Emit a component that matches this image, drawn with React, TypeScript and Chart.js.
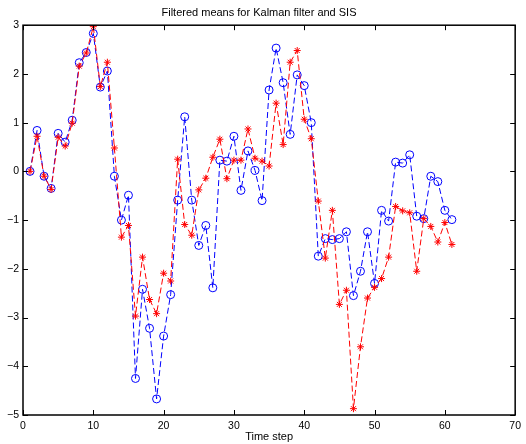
import React, { useEffect, useRef } from "react";
import { Chart, registerables } from "chart.js";

Chart.register(...registerables);

const steps: number[] = [
  1, 2, 3, 4, 5, 6, 7, 8, 9, 10, 11, 12, 13, 14, 15, 16, 17, 18, 19, 20,
  21, 22, 23, 24, 25, 26, 27, 28, 29, 30, 31, 32, 33, 34, 35, 36, 37, 38, 39, 40,
  41, 42, 43, 44, 45, 46, 47, 48, 49, 50, 51, 52, 53, 54, 55, 56, 57, 58, 59, 60, 61,
];

const kalman: number[] = [
  0.0, 0.84, -0.1, -0.35, 0.78, 0.6, 1.05, 2.23, 2.44, 2.83,
  1.73, 2.06, -0.1, -1.0, -0.49, -4.25, -2.42, -3.22, -4.67, -3.38,
  -2.53, -0.59, 1.12, -0.59, -1.52, -1.11, -2.39, 0.23, 0.21, 0.72,
  -0.39, 0.42, 0.02, -0.6, 1.67, 2.53, 1.82, 0.76, 1.98, 1.76,
  1.0, -1.74, -1.38, -1.4, -1.38, -1.24, -2.55, -2.05, -1.24, -2.3,
  -0.8, -1.02, 0.19, 0.17, 0.34, -0.92, -0.97, -0.1, -0.21, -0.8, -0.99,
];

const sis: number[] = [
  0.0, 0.72, -0.1, -0.37, 0.7, 0.52, 0.99, 2.16, 2.43, 2.97,
  1.74, 2.24, 0.48, -1.35, -1.11, -2.97, -1.76, -2.63, -2.92, -2.09,
  -2.25, 0.25, -1.09, -1.31, -0.38, -0.14, 0.29, 0.66, -0.15, 0.23,
  0.23, 0.87, 0.27, 0.21, 0.11, 1.4, 0.55, 2.24, 2.48, 1.07,
  0.67, -0.61, -1.78, -0.8, -2.73, -2.44, -4.87, -3.6, -2.6, -2.38,
  -2.2, -1.76, -0.72, -0.81, -0.85, -2.05, -0.97, -1.13, -1.45, -1.05, -1.5,
];

const titleText = "Filtered means for Kalman filter and SIS";
const xLabel = "Time step";
const FONT = "'Liberation Sans', Arial, Helvetica, sans-serif";

const boxTicks = {
  id: "boxTicks",
  afterDatasetsDraw(chart: any) {
    const { ctx, chartArea } = chart;
    const { left, right, top, bottom } = chartArea;
    const xs = chart.scales.x;
    const ys = chart.scales.y;
    const len = 5;
    ctx.save();
    ctx.strokeStyle = "#000";
    ctx.lineWidth = 1;
    ctx.beginPath();
    xs.ticks.forEach((t: any) => {
      const px = Math.round(xs.getPixelForValue(t.value)) + 0.5;
      ctx.moveTo(px, bottom);
      ctx.lineTo(px, bottom - len);
      ctx.moveTo(px, top);
      ctx.lineTo(px, top + len);
    });
    ys.ticks.forEach((t: any) => {
      const py = Math.round(ys.getPixelForValue(t.value)) + 0.5;
      ctx.moveTo(left, py);
      ctx.lineTo(left + len, py);
      ctx.moveTo(right, py);
      ctx.lineTo(right - len, py);
    });
    ctx.stroke();
    ctx.lineWidth = 1.5;
    ctx.strokeRect(left, top, right - left, bottom - top);
    ctx.restore();
  },
};

export default function App() {
  const ref = useRef<HTMLCanvasElement | null>(null);

  useEffect(() => {
    if (!ref.current) return;
    const chart = new Chart(ref.current, {
      type: "line",
      data: {
        datasets: [
          {
            label: "SIS",
            data: steps.map((s, i) => ({ x: s, y: sis[i] })),
            borderColor: "#ff0000",
            borderWidth: 1,
            borderDash: [6, 3],
            pointStyle: "star",
            pointRadius: 3.5,
            pointBorderColor: "#ff0000",
            pointBackgroundColor: "#ff0000",
            pointBorderWidth: 1,
            fill: false,
            tension: 0,
          },
          {
            label: "Kalman",
            data: steps.map((s, i) => ({ x: s, y: kalman[i] })),
            borderColor: "#0000ff",
            borderWidth: 1,
            borderDash: [6, 3],
            pointStyle: "circle",
            pointRadius: 4,
            pointBorderColor: "#0000ff",
            pointBackgroundColor: "rgba(0,0,0,0)",
            pointBorderWidth: 1,
            fill: false,
            tension: 0,
          },
        ],
      },
      options: {
        animation: false,
        responsive: false,
        maintainAspectRatio: false,
        layout: { padding: { top: 0, right: 8, left: 0, bottom: 0 } },
        plugins: {
          legend: { display: false },
          tooltip: { enabled: false },
          title: {
            display: true,
            text: titleText,
            color: "#000",
            font: { family: FONT, size: 11, weight: "normal" },
            padding: { top: 6, bottom: 6 },
          },
        },
        scales: {
          x: {
            type: "linear",
            min: 0,
            max: 70,
            grid: { display: false, drawTicks: false },
            border: { display: false },
            ticks: {
              stepSize: 10,
              color: "#000",
              font: { family: FONT, size: 10.5 },
              padding: 5,
              maxRotation: 0,
            },
            title: {
              display: true,
              text: xLabel,
              color: "#000",
              font: { family: FONT, size: 11 },
              padding: { top: 0, bottom: 0 },
            },
            afterFit: (s: any) => {
              s.height = 29;
            },
          },
          y: {
            type: "linear",
            min: -5,
            max: 3,
            grid: { display: false, drawTicks: false },
            border: { display: false },
            ticks: {
              stepSize: 1,
              color: "#000",
              font: { family: FONT, size: 10.5 },
              padding: 4,
              callback: (v: any) => String(v).replace("-", "\u2212"),
            },
            afterFit: (s: any) => {
              s.width = 23;
            },
          },
        },
      },
      plugins: [boxTicks],
    });
    return () => chart.destroy();
  }, []);

  return (
    <div style={{ position: "fixed", left: 0, top: 0, width: 526, height: 444, background: "#fff" }}>
      <canvas ref={ref} width={526} height={444} style={{ width: 526, height: 444 }} />
    </div>
  );
}
